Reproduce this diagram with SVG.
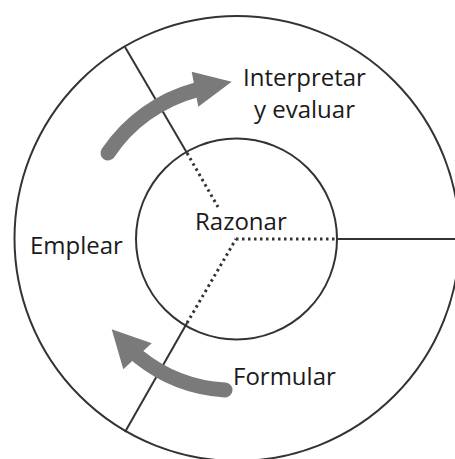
<svg xmlns="http://www.w3.org/2000/svg" width="455" height="459" viewBox="0 0 455 459">
  <style>
    .ring { fill: none; stroke: #333; stroke-width: 2; }
    .solid { stroke: #333; stroke-width: 2; fill: none; }
    .dot { stroke: #333; stroke-width: 3; fill: none; stroke-dasharray: 2.5 3.5; }
    .shaft { stroke: #7a7a7a; stroke-width: 15; fill: none; stroke-linecap: round; }
    .head { fill: #7a7a7a; }
    .lbl { font-family: "Open Sans", "Liberation Sans", sans-serif; font-size: 24px; fill: #1a1a1a; }
  </style>
  <rect width="455" height="459" fill="#fff"/>
  <g id="outer">
    <circle class="ring" cx="237" cy="238.5" r="222.5"/>
  </g>
  <g id="razonar">
    <circle class="ring" cx="236.5" cy="239" r="100.5"/>
    <text class="lbl" x="195" y="230">Razonar</text>
  </g>
  <g id="interpretar">
    <text class="lbl" x="243" y="86">Interpretar</text>
    <text class="lbl" x="254" y="118">y evaluar</text>
  </g>
  <g id="emplear">
    <text class="lbl" x="30" y="254">Emplear</text>
  </g>
  <g id="formular">
    <text class="lbl" x="233" y="385">Formular</text>
  </g>
  <g id="connectors">
    <line class="solid" x1="125" y1="47" x2="187" y2="153"/>
    <line class="dot" x1="187" y1="153" x2="218" y2="207"/>
    <line class="solid" x1="125" y1="432" x2="187" y2="323"/>
    <line class="dot" x1="187" y1="323" x2="236" y2="239"/>
    <line class="solid" x1="337" y1="239" x2="455" y2="239"/>
    <line class="dot" x1="236" y1="239" x2="337" y2="239"/>
    <path class="shaft" d="M108,153 A154,154 0 0 1 196,90"/>
    <polygon class="head" points="191.7,71.7 231.7,81.7 198.3,106.7"/>
    <path class="shaft" d="M225,390 A152,152 0 0 1 139,357"/>
    <polygon class="head" points="123.3,369.3 111.7,329.3 151.7,343.3"/>
  </g>
</svg>
